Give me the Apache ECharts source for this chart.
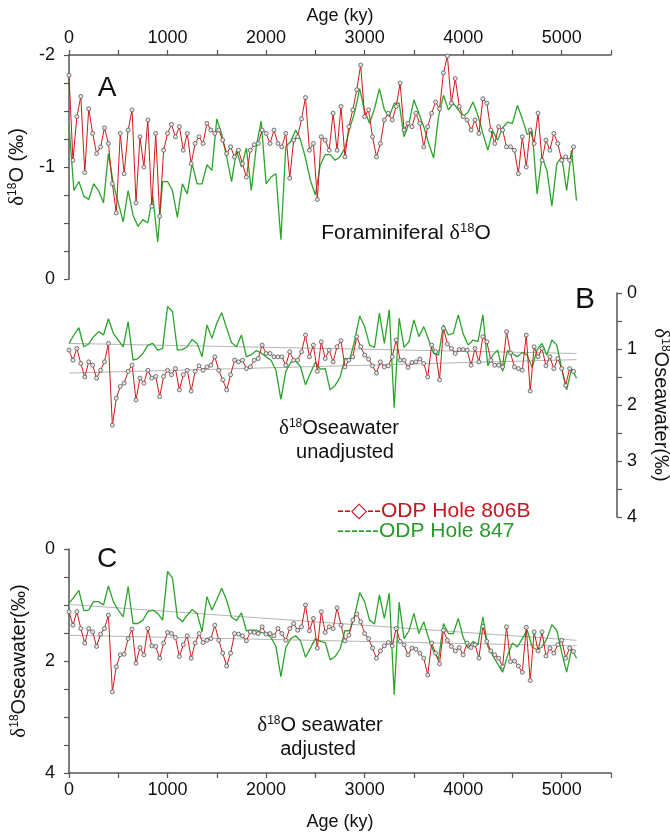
<!DOCTYPE html>
<html>
<head>
<meta charset="utf-8">
<script src="https://cdn.jsdelivr.net/npm/echarts@6/dist/echarts.min.js"></script>
<style>
  html, body { margin: 0; padding: 0; background: #fff; }
  #chart-main { width: 670px; height: 836px; }
</style>
</head>
<body>
<div id="chart-main"></div>
<script>
// ages (ky) for ODP 806B samples and ODP 847 samples
var ages806 = [0,40,80,120,160,200,240,280,320,360,400,440,480,520,560,600,640,680,720,760,800,840,880,920,960,1000,1040,1080,1120,1160,1200,1240,1280,1320,1360,1400,1440,1480,1520,1560,1600,1640,1680,1720,1760,1800,1840,1880,1920,1960,2000,2040,2080,2120,2160,2200,2240,2280,2320,2360,2400,2440,2480,2520,2560,2600,2640,2680,2720,2760,2800,2840,2880,2920,2960,3000,3040,3080,3120,3160,3200,3240,3280,3320,3360,3400,3440,3480,3520,3560,3600,3640,3680,3720,3760,3800,3840,3880,3920,3960,4000,4040,4080,4120,4160,4200,4240,4280,4320,4360,4400,4440,4480,4520,4560,4600,4640,4680,4720,4760,4800,4840,4880,4920,4960,5000,5040,5080,5120];
var ages847 = [0,50,100,150,200,250,300,350,400,450,500,550,600,650,700,750,800,850,900,950,1000,1050,1100,1150,1200,1250,1300,1350,1400,1450,1500,1550,1600,1650,1700,1750,1800,1850,1900,1950,2000,2050,2100,2150,2200,2250,2300,2350,2400,2450,2500,2550,2600,2650,2700,2750,2800,2850,2900,2950,3000,3050,3100,3150,3200,3250,3300,3350,3400,3450,3500,3550,3600,3650,3700,3750,3800,3850,3900,3950,4000,4050,4100,4150,4200,4250,4300,4350,4400,4450,4500,4550,4600,4650,4700,4750,4800,4850,4900,4950,5000,5050,5100,5150];

// A: foraminiferal d18O
var foram806 = [-1.82,-1.06,-1.45,-1.63,-0.95,-1.52,-1.30,-1.12,-1.18,-1.35,
  -1.21,-0.85,-0.59,-1.30,-0.94,-1.33,-1.51,-0.68,-1.27,-1.00,
  -1.42,-0.65,-1.30,-0.56,-1.15,-1.30,-1.38,-1.27,-1.36,-1.15,
  -1.30,-1.03,-1.21,-1.27,-1.21,-1.39,-1.33,-1.30,-1.33,-1.24,
  -1.12,-1.18,-1.09,-1.15,-1.03,-0.91,-1.15,-1.20,-1.21,-1.33,
  -1.30,-1.21,-1.33,-1.21,-1.18,-1.30,-0.90,-1.24,-1.27,-1.43,
  -1.62,-1.15,-1.21,-0.71,-1.27,-1.24,-1.15,-1.48,-1.15,-1.54,
  -1.09,-1.36,-1.51,-1.69,-1.91,-1.45,-1.51,-1.27,-1.09,-1.21,
  -1.42,-1.48,-1.42,-1.54,-1.75,-1.33,-1.39,-1.36,-1.48,-1.39,
  -1.18,-1.36,-1.48,-1.58,-1.52,-1.84,-1.99,-1.57,-1.79,-1.54,
  -1.45,-1.42,-1.33,-1.42,-1.30,-1.61,-1.57,-1.33,-1.21,-1.36,
  -1.33,-1.18,-1.18,-1.15,-0.94,-1.27,-1.00,-1.33,-1.21,-1.48,
  -1.06,-1.24,-1.15,-1.30,-1.21,-1.06,-1.09,-1.06,-1.18];
var foram847 = [-1.37,-0.79,-0.87,-0.74,-0.71,-0.85,-0.79,-0.68,-1.12,-0.85,
  -0.68,-0.51,-0.79,-0.57,-0.47,-0.53,-0.50,-0.74,-0.33,-0.87,
  -0.87,-0.79,-0.55,-0.85,-0.76,-1.03,-0.85,-0.85,-1.02,-0.97,
  -1.43,-1.29,-1.09,-0.87,-1.15,-1.00,-1.17,-0.79,-1.18,-1.41,
  -0.85,-0.91,-0.94,-0.35,-1.18,-1.23,-1.33,-1.24,-1.08,-0.88,
  -0.75,-1.02,-1.11,-1.11,-1.06,-1.09,-1.17,-1.35,-1.49,-1.70,
  -1.50,-1.39,-1.52,-1.70,-1.51,-1.45,-1.57,-1.57,-1.27,-1.39,
  -1.60,-1.48,-1.36,-1.21,-1.08,-1.45,-1.64,-1.51,-1.57,-1.51,
  -1.45,-1.49,-1.58,-1.46,-1.30,-1.15,-1.32,-1.24,-1.35,-1.40,
  -1.39,-1.55,-1.43,-1.29,-1.32,-0.76,-1.09,-0.97,-0.65,-1.03,
  -1.09,-0.79,-1.15,-0.70];

// B: seawater d18O, unadjusted
var swRaw806 = [1.02,1.20,0.99,1.26,1.50,1.23,1.29,1.52,1.38,1.23,
  0.90,2.36,1.88,1.67,1.61,1.40,1.29,1.91,1.52,1.61,
  1.38,1.52,1.49,1.85,1.49,1.38,1.46,1.35,1.73,1.46,
  1.38,1.75,1.40,1.30,1.38,1.32,1.29,1.14,1.38,1.55,
  1.73,1.46,1.20,1.23,1.20,1.35,1.32,1.20,1.17,0.93,
  1.08,1.08,1.14,1.14,1.14,1.29,1.05,1.20,1.20,1.05,
  0.75,1.14,0.93,1.40,0.87,1.17,1.02,1.23,0.96,0.85,
  1.32,1.20,1.14,0.78,0.96,1.11,1.18,1.30,1.43,1.23,
  1.32,1.30,1.14,0.84,1.20,1.20,1.33,1.24,1.23,1.18,
  1.26,1.50,0.93,1.05,1.55,0.63,0.91,0.99,1.08,1.01,
  1.01,1.02,1.29,0.99,1.23,0.78,0.87,1.20,1.29,1.29,
  1.32,0.69,1.07,1.32,1.35,1.38,0.75,1.75,0.96,1.14,
  0.99,1.30,1.14,1.35,1.17,1.35,1.65,1.35,1.40];
var swRaw847 = [0.90,0.75,0.62,0.96,0.91,0.78,0.69,0.75,0.46,0.72,
  0.84,0.96,0.51,1.20,1.17,1.08,0.93,0.90,1.02,0.99,
  0.24,0.33,1.02,1.01,0.96,0.83,0.90,1.14,0.57,0.81,
  0.54,0.35,0.63,0.89,0.96,0.75,1.14,1.10,1.03,1.07,
  1.14,1.20,1.38,1.90,1.40,1.24,1.21,1.32,1.64,1.43,
  1.24,1.36,1.35,1.73,1.65,1.51,1.17,1.18,0.84,0.41,
  0.60,0.93,0.97,0.36,0.90,0.30,2.05,0.45,0.97,0.87,
  0.48,0.78,0.60,0.84,1.08,1.11,0.57,0.75,0.72,0.39,
  0.73,0.93,0.84,0.87,0.39,1.30,1.11,1.02,1.40,1.03,
  1.08,1.14,1.06,1.11,1.33,1.01,0.90,1.11,0.84,0.93,
  1.35,1.73,1.35,1.52];

// C: seawater d18O, adjusted
var swAdj806 = [1.12,1.36,1.12,1.42,1.68,1.42,1.48,1.74,1.52,1.42,
  1.18,2.55,2.10,1.89,1.88,1.60,1.43,2.04,1.76,1.89,
  1.42,1.73,1.74,1.95,1.68,1.49,1.51,1.58,1.92,1.71,
  1.55,1.95,1.68,1.51,1.67,1.63,1.60,1.36,1.63,1.86,
  2.09,1.86,1.51,1.52,1.55,1.64,1.48,1.49,1.51,1.39,
  1.52,1.51,1.55,1.42,1.51,1.63,1.42,1.33,1.45,1.39,
  1.00,1.46,1.24,1.77,1.12,1.49,1.39,1.42,1.05,1.36,
  1.64,1.54,1.27,1.16,1.30,1.51,1.60,1.77,1.95,1.82,
  1.73,1.67,1.73,1.42,1.65,1.71,1.89,1.77,1.79,1.86,
  1.95,2.25,1.68,1.86,2.05,1.45,1.63,1.74,1.82,1.76,
  1.89,1.68,1.76,1.71,1.95,1.38,1.65,1.82,1.89,1.95,
  2.10,1.39,2.01,2.00,2.09,2.20,1.40,2.35,1.48,1.82,
  1.48,1.91,1.77,1.86,1.71,1.63,1.95,1.77,1.83];
var swAdj847 = [0.97,0.86,0.74,1.10,1.09,0.94,0.94,1.00,0.66,0.94,
  1.09,1.21,0.67,1.33,1.33,1.27,1.12,1.09,1.15,1.27,
  0.40,0.52,1.22,1.30,1.18,1.08,1.15,1.48,0.85,1.09,
  0.90,0.70,0.92,1.22,1.28,1.14,1.46,1.45,1.45,1.49,
  1.51,1.58,1.74,2.28,1.76,1.60,1.55,1.64,1.93,1.77,
  1.60,1.65,1.67,1.98,1.92,1.79,1.46,1.46,1.18,0.78,
  0.94,1.27,1.34,0.82,1.24,0.79,2.60,0.95,1.60,1.46,
  1.15,1.51,1.30,1.60,1.83,1.97,1.33,1.51,1.51,1.24,
  1.58,1.77,1.65,1.71,1.21,1.74,1.90,2.05,2.20,1.90,
  1.68,1.75,1.60,1.45,1.75,1.80,1.75,1.60,1.35,1.45,
  1.85,2.20,1.78,1.95];

// linear trends drawn in grey
var trendAges = [0, 5150];
var trendRaw806 = [1.43, 1.19];
var trendRaw847 = [0.90, 1.08];
var trendAdj806 = [1.54, 1.73];
var trendAdj847 = [0.99, 1.63];

var xTickLabels = [0, 1000, 2000, 3000, 4000, 5000];

var FONT = 'Liberation Sans, Arial, sans-serif';
var RED = '#d01a1a';
var GREEN = '#2aa52a';
var AXIS = '#555';

function pairs(xs, ys) {
    var out = [];
    for (var i = 0; i < xs.length; i++) {
        out.push([xs[i], ys[i]]);
    }
    return out;
}

function richSup(size) {
    return {
        d: {fontFamily: 'Liberation Serif, DejaVu Serif, serif', fontSize: size + 1, color: '#111'},
        s: {fontFamily: FONT, fontSize: Math.round(size * 0.6), verticalAlign: 'top', color: '#111'},
        n: {fontFamily: FONT, fontSize: size, color: '#111'}
    };
}

function xAxisOpt(gridIndex, pos, show, nameGap) {
    return {
        gridIndex: gridIndex, type: 'value', position: pos, show: show,
        min: 0, max: 5500, interval: 500,
        name: 'Age (ky)', nameLocation: 'middle', nameGap: nameGap,
        nameTextStyle: {fontFamily: FONT, fontSize: 18, color: '#111'},
        axisLine: {show: true, onZero: false, lineStyle: {color: AXIS, width: 1.5}},
        axisTick: {show: true, length: 5, lineStyle: {color: AXIS, width: 1.2}},
        axisLabel: {
            fontFamily: FONT, fontSize: 18, color: '#111', margin: 8,
            showMinLabel: true, showMaxLabel: true, hideOverlap: false,
            formatter: function (v) {
                return xTickLabels.indexOf(v) >= 0 ? String(v) : '';
            }
        },
        splitLine: {show: false}
    };
}

function yAxisOpt(gridIndex, pos, min, max, interval, labelStep, name, nameGap, nameRotate, offset) {
    return {
        gridIndex: gridIndex, type: 'value', position: pos, offset: offset || 0,
        min: min, max: max, interval: interval, inverse: true,
        name: name, nameLocation: 'middle', nameGap: nameGap, nameRotate: nameRotate,
        nameTextStyle: {fontFamily: FONT, fontSize: 20, color: '#111', rich: richSup(20)},
        axisLine: {show: true, onZero: false, lineStyle: {color: AXIS, width: 1.5}},
        axisTick: {show: true, length: 5, lineStyle: {color: AXIS, width: 1.2}},
        axisLabel: {
            fontFamily: FONT, fontSize: 18, color: '#111', margin: pos === 'right' ? 10 : 14,
            showMinLabel: true, showMaxLabel: true, hideOverlap: false,
            formatter: function (v) {
                var r = Math.round(v);
                if (Math.abs(v - r) > 1e-6 || r % labelStep !== 0) return '';
                return String(r);
            }
        },
        splitLine: {show: false}
    };
}

function redSeries(idx, ys) {
    return {
        type: 'line', xAxisIndex: idx, yAxisIndex: idx, z: 4,
        data: pairs(ages806, ys),
        symbol: 'circle', symbolSize: 4, showSymbol: true,
        lineStyle: {color: RED, width: 1},
        itemStyle: {color: '#e6e6e6', borderColor: '#555', borderWidth: 0.8},
        animation: false
    };
}

function greenSeries(idx, ys) {
    return {
        type: 'line', xAxisIndex: idx, yAxisIndex: idx, z: 3,
        data: pairs(ages847, ys), symbol: 'none',
        lineStyle: {color: GREEN, width: 1.3},
        animation: false
    };
}

function trendSeries(idx, ys) {
    return {
        type: 'line', xAxisIndex: idx, yAxisIndex: idx, z: 2,
        data: pairs(trendAges, ys), symbol: 'none',
        lineStyle: {color: '#b4b4b4', width: 1},
        animation: false
    };
}

function label(x, y, text, size, extra) {
    var style = {
        text: text, x: 0, y: 0, fill: '#111',
        fontFamily: FONT, fontSize: size,
        align: 'center', verticalAlign: 'middle',
        rich: richSup(size)
    };
    if (extra) {
        for (var k in extra) style[k] = extra[k];
    }
    return {type: 'text', x: x, y: y, style: style, z: 10};
}

var gridBase = {outerBoundsMode: 'none', containLabel: false, left: 69, width: 542, height: 224};

var option = {
    backgroundColor: '#fff',
    animation: false,
    grid: [
        echarts.util.extend({top: 55}, gridBase),
        echarts.util.extend({top: 293}, gridBase),
        echarts.util.extend({top: 549}, gridBase)
    ],
    xAxis: [
        xAxisOpt(0, 'top', true, 30),
        xAxisOpt(1, 'bottom', false, 30),
        xAxisOpt(2, 'bottom', true, 40)
    ],
    yAxis: [
        yAxisOpt(0, 'left', -2, 0, 0.25, 1, '{d|δ}{s|18}{n|O (‰)}', 39, 90),
        yAxisOpt(1, 'right', 0, 4, 0.5, 1, '{d|δ}{s|18}{n|Oseawater(‰)}', 33, -90, 6),
        yAxisOpt(2, 'left', 0, 4, 0.5, 2, '{d|δ}{s|18}{n|Oseawater(‰)}', 39, 90)
    ],
    series: [
        trendSeries(1, trendRaw847), trendSeries(1, trendRaw806),
        trendSeries(2, trendAdj847), trendSeries(2, trendAdj806),
        greenSeries(0, foram847), redSeries(0, foram806),
        greenSeries(1, swRaw847), redSeries(1, swRaw806),
        greenSeries(2, swAdj847), redSeries(2, swAdj806)
    ],
    graphic: [
        label(107, 88, 'A', 28),
        label(585, 300, 'B', 30),
        label(107, 559, 'C', 28),
        label(406, 233, '{n|Foraminiferal }{d|δ}{s|18}{n|O}', 21),
        label(339, 428, '{d|δ}{s|18}{n|Oseawater}', 20),
        label(345, 452, 'unadjusted', 20),
        label(320, 725, '{d|δ}{s|18}{n|O seawater}', 20),
        label(318, 749, 'adjusted', 20),
        label(337, 511, '--◇--ODP Hole 806B', 21, {align: 'left', fill: '#c4161c', rich: {}}),
        label(337, 531, '------ODP Hole 847', 21, {align: 'left', fill: '#279a27', rich: {}})
    ]
};

var myChart = echarts.init(document.getElementById('chart-main'), null, {renderer: 'canvas'});
myChart.setOption(option);
</script>
</body>
</html>
